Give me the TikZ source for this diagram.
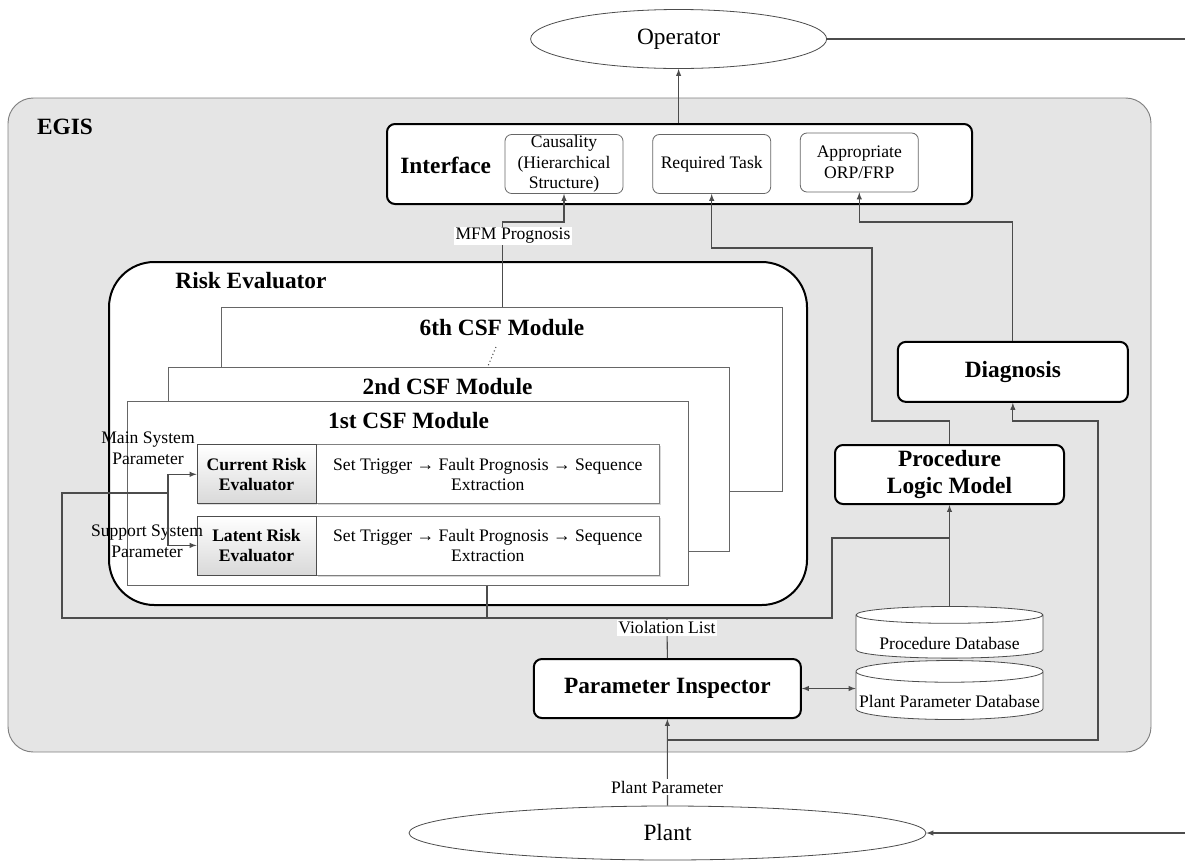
\documentclass[tikz,border=0pt]{standalone}
\usepackage{fontspec}
\setmainfont{Liberation Serif}
\usetikzlibrary{arrows}
\usetikzlibrary{shapes}
\usetikzlibrary{shadows}
\newlength{\pixel}
\setlength{\pixel}{0.75pt}
\newcommand{\diagsmall}{\fontsize{13.2}{15.4}\selectfont}
\newcommand{\diaglarge}{\fontsize{17.5}{20.5}\selectfont}
\tikzstyle{conn}=[draw=black!70, line width=0.8pt]
\tikzstyle{egisbox}=[rectangle, draw=gray, fill=gray!20, rounded corners=19pt, line width=0.7pt]
\tikzstyle{mainbox}=[rectangle, draw=black, line width=1.5pt, rounded corners=6pt, fill=white, font=\diaglarge\bfseries, align=center, inner sep=1pt]
\tikzstyle{subbox}=[rectangle, draw=black!60, line width=0.6pt, rounded corners=5pt, fill=white, font=\diagsmall, align=center, inner sep=0pt, minimum width=118*\pixel, minimum height=59*\pixel]
\tikzstyle{csfbox}=[rectangle, draw=black!60, line width=0.75pt, fill=white, minimum width=561*\pixel, minimum height=184*\pixel]
\tikzstyle{evalbox}=[rectangle, draw=black!70, line width=0.6pt, top color=white, bottom color=gray!30, drop shadow={shadow xshift=0.8pt, shadow yshift=-0.8pt, fill=gray!50}, font=\diagsmall\bfseries, align=center, minimum width=119*\pixel, minimum height=59*\pixel, inner sep=1pt]
\tikzstyle{seqbox}=[rectangle, draw=black!50, line width=0.6pt, fill=white, drop shadow={shadow xshift=1.2pt, shadow yshift=-1.2pt, fill=gray!60}, font=\diagsmall, align=center, minimum width=343*\pixel, minimum height=59*\pixel, inner sep=1pt]
\tikzstyle{ends}=[ellipse, draw=black!70, line width=0.6pt, fill=white, font=\diaglarge]
\tikzstyle{dbase}=[cylinder, shape border rotate=90, aspect=0.12, anchor=shape center, draw=black!70, line width=0.6pt, fill=white, font=\diagsmall, inner sep=0pt, minimum width=187*\pixel]
\tikzstyle{tag}=[fill=white, font=\diagsmall, inner sep=1pt]
\tikzstyle{plain}=[font=\diagsmall, align=center, inner sep=0pt]
\tikzstyle{boldtitle}=[font=\diaglarge\bfseries, inner sep=1pt]

\begin{document}
\begin{tikzpicture}[x=0.75pt, y=-0.75pt, >=latex]
\useasboundingbox (0,0) rectangle (1185,861);

	\path (579.5,425) node[egisbox, minimum width=1143*\pixel, minimum height=654*\pixel] (egis) {}
	      (65,127) node[boldtitle] (egislabel) {EGIS}
	      (678.6,39) node[ends, minimum width=296*\pixel, minimum height=59*\pixel] (operator) {Operator}
	      (667.5,833) node[ends, minimum width=517*\pixel, minimum height=54*\pixel] (plant) {Plant};

	\path (679.5,164) node[mainbox, minimum width=585*\pixel, minimum height=80*\pixel] (interface) {}
	      (445.7,165) node[boldtitle] (interfacelabel) {Interface}
	      (564,164) node[subbox] (causality) {Causality\\(Hierarchical\\Structure)}
	      (711.7,164) node[subbox] (reqtask) {Required Task}
	      (859.3,162.5) node[subbox] (orpfrp) {Appropriate\\ORP/FRP};

	\path (458,433.5) node[mainbox, rounded corners=34pt, minimum width=698*\pixel, minimum height=343*\pixel] (riskeval) {}
	      (251,281) node[boldtitle] (risklabel) {Risk Evaluator}
	      (502.2,399.5) node[csfbox] (csfsix) {}
	      (502,328) node[boldtitle] (csfsixlabel) {6th CSF Module}
	      (448.5,459) node[csfbox] (csftwo) {}
	      (447.6,387) node[boldtitle] (csftwolabel) {2nd CSF Module}
	      (408.3,493.6) node[csfbox] (csfone) {}
	      (408.5,421) node[boldtitle] (csfonelabel) {1st CSF Module};

	\coordinate (dotstart) at (496,347);
	\coordinate (dotend) at (488,366);
	\draw[conn, dotted] (dotstart) -- (dotend);

	\path (487.8,474.3) node[seqbox] (curseq) {Set Trigger → Fault Prognosis → Sequence\\Extraction}
	      (487.8,545.4) node[seqbox] (latseq) {Set Trigger → Fault Prognosis → Sequence\\Extraction}
	      (256.5,474.3) node[evalbox] (currisk) {Current Risk\\Evaluator}
	      (256.5,545.4) node[evalbox] (latrisk) {Latent Risk\\Evaluator}
	      (148,448) node[plain] (mainpar) {Main System\\Parameter}
	      (147,541) node[plain] (suppar) {Support System\\Parameter};

	\path (949.5,474.5) node[mainbox, minimum width=229*\pixel, minimum height=59*\pixel] (plm) {Procedure\\Logic Model}
	      (1012.85,371.85) node[mainbox, minimum width=230*\pixel, minimum height=60*\pixel] (diag) {Diagnosis}
	      (667.35,688.5) node[mainbox, minimum width=267*\pixel, minimum height=59*\pixel] (pinsp) {Parameter Inspector}
	      (949.5,632.3) node[dbase, minimum height=51*\pixel, text height=26*\pixel, text depth=-8*\pixel] (procdb) {Procedure Database}
	      (949.5,690) node[dbase, minimum height=56*\pixel, text height=25*\pixel, text depth=1*\pixel] (ppdb) {Plant Parameter Database};

	\coordinate (vl) at (667,618);
	\coordinate (csfout) at (487,585.5);
	\coordinate (leftbend) at (62,493);
	\coordinate (splitx) at (168,493);
	\coordinate (rightbend) at (832,538);
	\coordinate (plmbend) at (872,421);
	\coordinate (reqbend) at (872,248);
	\coordinate (diagbend) at (1098,421);
	\coordinate (plantsplit) at (667.5,740);
	\coordinate (mfmbend) at (502.2,222);
	\coordinate (orpbend) at (1012.85,222);
	\coordinate (opout) at (1185,39);
	\coordinate (plantin) at (1185,833);

	\draw[conn, ->] (operator.south |- interface.north) -- (operator.south);
	\draw[conn] (operator.east) -- (opout);
	\draw[conn, ->] (plantin) -- (plant.east);
	\draw[conn, ->] (plant.north) -- (pinsp.south);
	\draw[conn, ->] (plantsplit) -| (diagbend) -| (diag.south);
	\draw[conn, <->] (pinsp.east) -- (pinsp.east -| ppdb.west);
	\draw[conn] (pinsp.north) -- (vl);
	\draw[conn] (csfout) -- (csfout |- vl);
	\draw[conn, ->] (vl) -| (leftbend) -- (splitx) |- (currisk.west);
	\draw[conn, ->] (splitx) |- (latrisk.west);
	\draw[conn] (vl) -| (rightbend) -- (procdb.north |- rightbend);
	\draw[conn, ->] (procdb.north) -- (plm.south);
	\draw[conn, ->] (plm.north) |- (plmbend) -- (reqbend) -| (reqtask.south);
	\draw[conn, ->] (diag.north) -- (orpbend) -| (orpfrp.south);
	\draw[conn, ->] (csfsix.north) -- (mfmbend) -| (causality.south);

	\path (513,236) node[tag] (mfmlabel) {MFM Prognosis}
	      (667,628) node[tag] (violabel) {Violation List}
	      (667,787) node[tag] (plantparlabel) {Plant Parameter};

\end{tikzpicture}
\end{document}
